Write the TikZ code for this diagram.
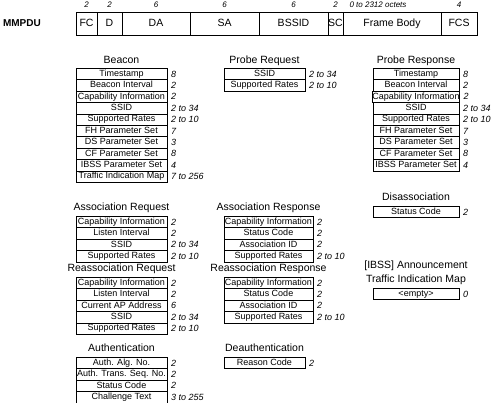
\documentclass[tikz,border=0pt]{standalone}
\usepackage{fontspec}
\setmainfont{Liberation Sans}
\usetikzlibrary{positioning}

\tikzset{
  bar/.style={draw, line width=0.8pt, minimum height=23pt, inner sep=0pt, outer sep=0pt,
    text height=7.5pt, text depth=2pt, font=\fontsize{10.5}{12}\selectfont},
  fld/.style={draw, line width=0.7pt, minimum height=11.4pt, inner sep=0pt, outer sep=0pt,
    text height=6.6pt, text depth=1.9pt, font=\fontsize{9}{10}\selectfont, label distance=5pt},
  col1/.style={fld, minimum width=91pt},
  col2/.style={fld, minimum width=89pt, label distance=8pt},
  col2s/.style={fld, minimum width=81pt, label distance=8pt},
  col3/.style={fld, minimum width=86pt, label distance=4.5pt},
  sz/.style={inner sep=0pt, font=\fontsize{9}{10}\selectfont\itshape},
  num/.style={inner sep=0pt, font=\fontsize{8}{9}\selectfont\itshape},
  ttl/.style={inner sep=0pt, text depth=0pt, align=center, font=\fontsize{10.5}{14}\selectfont},
}

\begin{document}
\begin{tikzpicture}[x=1pt, y=1pt, label distance=4pt]
  \useasboundingbox (0,0) rectangle (500,-403);

  % MMPDU frame
  \node[bar, minimum width=21pt, anchor=north west, label={[num,name=fcn]above:2}] (fc) at (76,-12) {FC};
  \node[bar, minimum width=25pt, right=0pt of fc, label={[num,name=dn]above:2}] (d) {D};
  \node[bar, minimum width=68pt, right=0pt of d, label={[num,name=dan]above:6}] (da) {DA};
  \node[bar, minimum width=69pt, right=0pt of da, label={[num,name=san]above:6}] (sa) {SA};
  \node[bar, minimum width=69pt, right=0pt of sa, label={[num,name=bssidn]above:6}] (bssid) {BSSID};
  \node[bar, minimum width=15pt, right=0pt of bssid, label={[num,name=scn]above:2}] (sc) {SC};
  \node[bar, minimum width=98pt, right=0pt of sc, label={[num,name=fbn,xshift=-14pt]above:0 to 2312 octets}] (fb) {Frame Body};
  \node[bar, minimum width=36pt, right=0pt of fb, label={[num,name=fcsn]above:4}] (fcs) {FCS};
  \node[inner sep=0pt, font=\bfseries\fontsize{10}{12}\selectfont, left=35pt of fc] (mmpdu) {MMPDU};

  % Beacon
  \node[col1, anchor=north west, label={[sz,name=b1s]east:8}] (b1) at (76,-68.3) {Timestamp};
  \node[col1, below=0pt of b1, label={[sz,name=b2s]east:2}] (b2) {Beacon Interval};
  \node[col1, below=0pt of b2, label={[sz,name=b3s]east:2}] (b3) {Capability Information};
  \node[col1, below=0pt of b3, label={[sz,name=b4s]east:2 to 34}] (b4) {SSID};
  \node[col1, below=0pt of b4, label={[sz,name=b5s]east:2 to 10}] (b5) {Supported Rates};
  \node[col1, below=0pt of b5, label={[sz,name=b6s]east:7}] (b6) {FH Parameter Set};
  \node[col1, below=0pt of b6, label={[sz,name=b7s]east:3}] (b7) {DS Parameter Set};
  \node[col1, below=0pt of b7, label={[sz,name=b8s]east:8}] (b8) {CF Parameter Set};
  \node[col1, below=0pt of b8, label={[sz,name=b9s]east:4}] (b9) {IBSS Parameter Set};
  \node[col1, below=0pt of b9, label={[sz,name=b10s]east:7 to 256}] (b10) {Traffic Indication Map};
  \node[ttl, above=5pt of b1] (bt) {Beacon};

  % Probe Request
  \node[col2s, anchor=north west, label={[sz,name=pq1s]east:2 to 34}] (pq1) at (224,-68.3) {SSID};
  \node[col2s, below=0pt of pq1, label={[sz,name=pq2s]east:2 to 10}] (pq2) {Supported Rates};
  \node[ttl, above=5pt of pq1] (pqt) {Probe Request};

  % Probe Response
  \node[col3, anchor=north west, label={[sz,name=pr1s]east:8}] (pr1) at (373,-68.3) {Timestamp};
  \node[col3, below=0pt of pr1, label={[sz,name=pr2s]east:2}] (pr2) {Beacon Interval};
  \node[col3, below=0pt of pr2, label={[sz,name=pr3s]east:2}] (pr3) {Capability Information};
  \node[col3, below=0pt of pr3, label={[sz,name=pr4s]east:2 to 34}] (pr4) {SSID};
  \node[col3, below=0pt of pr4, label={[sz,name=pr5s]east:2 to 10}] (pr5) {Supported Rates};
  \node[col3, below=0pt of pr5, label={[sz,name=pr6s]east:7}] (pr6) {FH Parameter Set};
  \node[col3, below=0pt of pr6, label={[sz,name=pr7s]east:3}] (pr7) {DS Parameter Set};
  \node[col3, below=0pt of pr7, label={[sz,name=pr8s]east:8}] (pr8) {CF Parameter Set};
  \node[col3, below=0pt of pr8, label={[sz,name=pr9s]east:4}] (pr9) {IBSS Parameter Set};
  \node[ttl, above=5pt of pr1] (prt) {Probe Response};

  % Association Request
  \node[col1, anchor=north west, label={[sz,name=aq1s]east:2}] (aq1) at (76,-216.3) {Capability Information};
  \node[col1, below=0pt of aq1, label={[sz,name=aq2s]east:2}] (aq2) {Listen Interval};
  \node[col1, below=0pt of aq2, label={[sz,name=aq3s]east:2 to 34}] (aq3) {SSID};
  \node[col1, below=0pt of aq3, label={[sz,name=aq4s]east:2 to 10}] (aq4) {Supported Rates};
  \node[ttl, above=5.5pt of aq1] (aqt) {Association Request};

  % Association Response
  \node[col2, anchor=north west, label={[sz,name=ar1s]east:2}] (ar1) at (224,-216.3) {Capability Information};
  \node[col2, below=0pt of ar1, label={[sz,name=ar2s]east:2}] (ar2) {Status Code};
  \node[col2, below=0pt of ar2, label={[sz,name=ar3s]east:2}] (ar3) {Association ID};
  \node[col2, below=0pt of ar3, label={[sz,name=ar4s]east:2 to 10}] (ar4) {Supported Rates};
  \node[ttl, above=5.5pt of ar1] (art) {Association Response};

  % Disassociation
  \node[col3, anchor=north west, label={[sz,name=ds1s]east:2}] (ds1) at (373,-206.3) {Status Code};
  \node[ttl, above=5.5pt of ds1] (dst) {Disassociation};

  % Reassociation Request
  \node[col1, anchor=north west, label={[sz,name=rq1s]east:2}] (rq1) at (76,-277.3) {Capability Information};
  \node[col1, below=0pt of rq1, label={[sz,name=rq2s]east:2}] (rq2) {Listen Interval};
  \node[col1, below=0pt of rq2, label={[sz,name=rq3s]east:6}] (rq3) {Current AP Address};
  \node[col1, below=0pt of rq3, label={[sz,name=rq4s]east:2 to 34}] (rq4) {SSID};
  \node[col1, below=0pt of rq4, label={[sz,name=rq5s]east:2 to 10}] (rq5) {Supported Rates};
  \node[ttl, above=5.5pt of rq1] (rqt) {Reassociation Request};

  % Reassociation Response
  \node[col2, anchor=north west, label={[sz,name=rr1s]east:2}] (rr1) at (224,-277.3) {Capability Information};
  \node[col2, below=0pt of rr1, label={[sz,name=rr2s]east:2}] (rr2) {Status Code};
  \node[col2, below=0pt of rr2, label={[sz,name=rr3s]east:2}] (rr3) {Association ID};
  \node[col2, below=0pt of rr3, label={[sz,name=rr4s]east:2 to 10}] (rr4) {Supported Rates};
  \node[ttl, above=5.5pt of rr1] (rrt) {Reassociation Response};

  % ATIM
  \node[col3, anchor=north west, label={[sz,name=at1s]east:0}] (at1) at (373,-288.3) {<empty>};
  \node[ttl, above=5.5pt of at1] (att) {[IBSS] Announcement\\Traffic Indication Map};

  % Authentication
  \node[col1, anchor=north west, label={[sz,name=au1s]east:2}] (au1) at (76,-357.3) {Auth. Alg. No.};
  \node[col1, below=0pt of au1, label={[sz,name=au2s]east:2}] (au2) {Auth. Trans. Seq. No.};
  \node[col1, below=0pt of au2, label={[sz,name=au3s]east:2}] (au3) {Status Code};
  \node[col1, below=0pt of au3, label={[sz,name=au4s]east:3 to 255}] (au4) {Challenge Text};
  \node[ttl, above=5.5pt of au1] (aut) {Authentication};

  % Deauthentication
  \node[col2s, anchor=north west, label={[sz,name=de1s]east:2}] (de1) at (224,-357.3) {Reason Code};
  \node[ttl, above=5.5pt of de1] (det) {Deauthentication};
\end{tikzpicture}
\end{document}
